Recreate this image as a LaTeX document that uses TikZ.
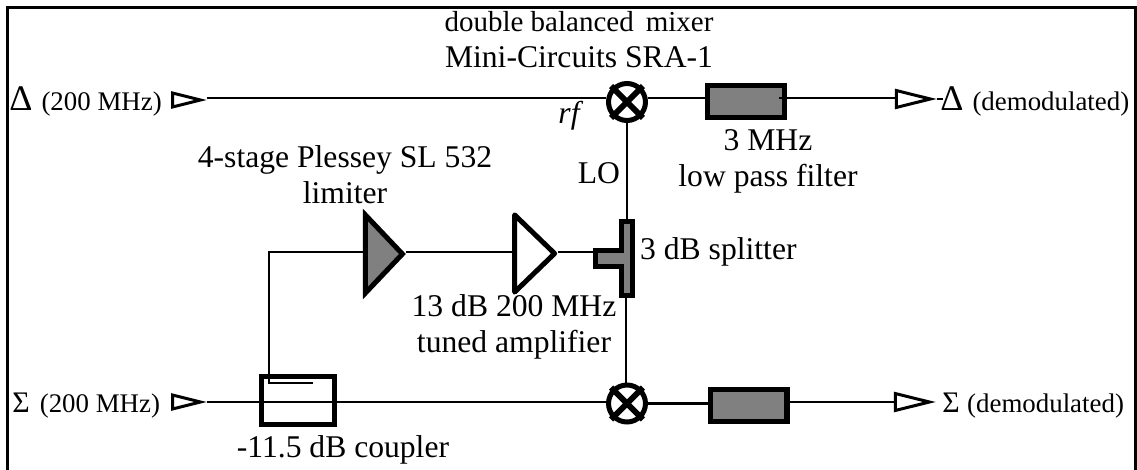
\documentclass[tikz,border=0pt]{standalone}
\usepackage{fontspec}
\setmainfont{Liberation Serif}
\usepackage{xcolor}
\usetikzlibrary{shapes.geometric,shapes.misc,positioning}

\begin{document}
\begin{tikzpicture}[
        x=0.02cm, y=-0.02cm,
        wire/.style={line width=1.7pt},
        filterbox/.style={rectangle, draw=black, line width=2.85pt, fill=gray, minimum width=1.54cm, minimum height=0.64cm, inner sep=0pt},
        couplerbox/.style={rectangle, draw=black, line width=2.85pt, minimum width=1.46cm, minimum height=0.96cm, inner sep=0pt},
        mixer/.style={cross out, draw=black, line width=3.4pt, minimum size=0.52cm, inner sep=0pt},
        mixring/.style={circle, draw=black, line width=2.85pt, fill=white, minimum size=0.74cm, inner sep=0pt},
        amp/.style={isosceles triangle, isosceles triangle apex angle=93, draw=black, line width=2.85pt, minimum height=0.74cm, inner sep=0pt},
        port/.style={isosceles triangle, isosceles triangle apex angle=28, draw=black, line width=1.7pt, fill=white, minimum height=0.56cm, inner sep=0pt},
        label/.style={font=\fontsize{18pt}{20.5pt}\selectfont, align=center},
        side/.style={anchor=base west, inner sep=0pt}
    ]
    \useasboundingbox (0,0) rectangle (1137,470);

    % Outer frame
    \draw[wire] (7.5,480) -- (7.5,7.5) -- (1135.5,7.5) -- (1135.5,480);

    % Delta channel
    \coordinate (delta_line) at (212,98);
    \node[port] (delta_in) at (178,100) {};
    \node[mixring] (mix_top) at (627,102) {};
    \node[mixer] (mix_top_x) at (627,102) {};
    \node[filterbox] (filter_top) at (746,101.5) {};
    \node[port, minimum height=0.68cm] (delta_out) at (903,99) {};

    % Sigma channel
    \node[port] (sigma_in) at (178,402) {};
    \node[couplerbox] (coupler) at (298,400.5) {};
    \node[mixring] (mix_bot) at (627,403.5) {};
    \node[mixer] (mix_bot_x) at (627,403.5) {};
    \node[filterbox] (filter_bot) at (748.5,405.5) {};
    \node[port, minimum height=0.68cm] (sigma_out) at (902,402) {};

    % Limiter and amplifier
    \node[amp, fill=gray] (limiter) at (381,254) {};
    \node[amp, fill=white, line join=round, minimum height=0.8cm, isosceles triangle apex angle=88] (amplifier) at (531,253.5) {};

    % Splitter
    \coordinate (split_in) at (594,252);
    \coordinate (split_top) at (626,221);
    \coordinate (split_bot) at (626,296);
    \coordinate (tap) at (269,383);
    \draw[line width=2.85pt, fill=gray] (621.5,221.5) -- (632.5,221.5) -- (632.5,295.5) -- (621.5,295.5) -- (621.5,266.5) -- (595.5,266.5) -- (595.5,250.5) -- (621.5,250.5) -- cycle;

    % Delta wires
    \draw[wire] (delta_in.apex |- delta_line) -- (mix_top.west |- delta_line);
    \draw[wire] (mix_top.east |- delta_line) -- (filter_top.west |- delta_line);
    \draw[wire] ([xshift=-4.5pt]filter_top.east |- delta_line) -- (delta_out.west |- delta_line);
    \draw[wire] (delta_out.apex) -- ++(6,0);

    % Sigma wires
    \draw[wire] (sigma_in.apex) -- (sigma_in.apex -| mix_bot.west);
    \draw[wire] (mix_bot.east) -- (filter_bot.west |- mix_bot.east);
    \draw[wire] (filter_bot.east |- sigma_out) -- (sigma_out.west);

    % Middle wires
    \draw[wire] (limiter.apex |- split_in) -- (amplifier.west |- split_in);
    \draw[wire] (amplifier.apex |- split_in) -- (split_in);
    \draw[wire] (split_top -| mix_top.south) -- (mix_top.south);
    \draw[wire] (split_bot) -- (split_bot |- mix_bot.north);
    \draw[wire] (limiter.west |- split_in) -- (tap |- split_in) -- (tap) -- ++(44,0);

    % Labels
    \node[label] (mixer_label) at (579,40) {\fontsize{16.5pt}{20.5pt}\selectfont double balanced\, mixer\\Mini-Circuits SRA-1};
    \node[label, font=\fontsize{18pt}{20.5pt}\selectfont\itshape] (rf_label) at (569,116) {rf};
    \node[label] (lo_label) at (599,173) {LO};
    \node[label] (filter_label) at (768,161) {3 MHz\\low pass filter};
    \node[label] (limiter_label) at (345,175) {4-stage Plessey SL 532\\limiter};
    \node[label] (amp_label) at (514,327) {13 dB 200 MHz\\tuned amplifier};
    \node[label, anchor=west] (splitter_label) at (634,252) {3 dB splitter};
    \node[label] (coupler_label) at (343,450) {-11.5 dB coupler};

    \node[side] (delta_in_label) at (9,110) {\fontsize{20.5pt}{22pt}\selectfont Δ \fontsize{15.3pt}{17pt}\selectfont(200 MHz)};
    \node[side] (sigma_in_label) at (12,412) {\fontsize{17pt}{19pt}\selectfont Σ\hspace{1.5pt} \fontsize{15.3pt}{17pt}\selectfont(200 MHz)};
    \node[side] (delta_out_label) at (940,110) {\fontsize{20.5pt}{22pt}\selectfont Δ \fontsize{15.3pt}{17pt}\selectfont(demodulated)};
    \node[side] (sigma_out_label) at (942,412) {\fontsize{17pt}{19pt}\selectfont Σ \fontsize{15.3pt}{17pt}\selectfont(demodulated)};
\end{tikzpicture}
\end{document}
